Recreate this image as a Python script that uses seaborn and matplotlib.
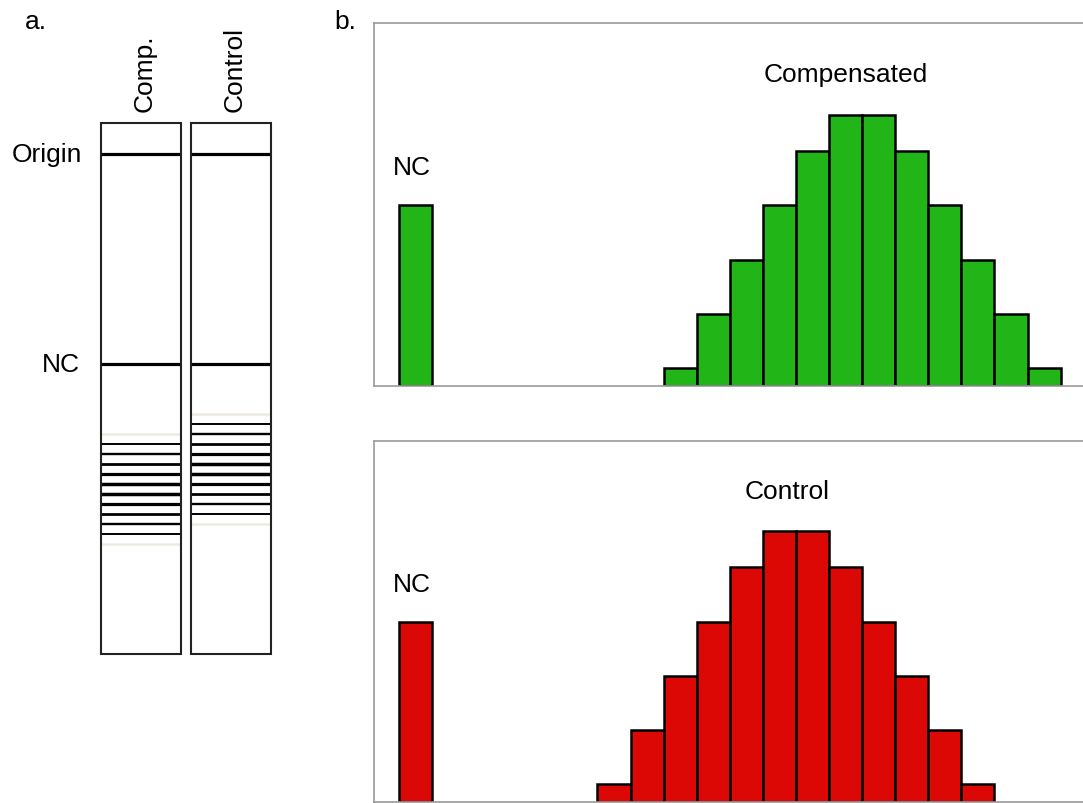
import numpy as np
import pandas as pd
import matplotlib
matplotlib.use("Agg")
import matplotlib.pyplot as plt
from matplotlib.patches import Rectangle
import seaborn as sns

sns.set_style("white")
plt.rcParams['font.family'] = ['Liberation Sans', 'DejaVu Sans']
plt.rcParams['text.color'] = 'black'

# ---- data ----
counts = [1, 4, 7, 10, 13, 15, 15, 13, 10, 7, 4, 1]
comp_positions = list(range(8, 20))
control_positions = list(range(6, 18))
nc_position = 0
nc_count = 10
lane_names = ["Comp.", "Control"]
panel_titles = ["Compensated", "Control"]

# gel geometry (data units = migration distance)
gel_origin = 31
gel_nc = 241
gel_ladder_offset = 230.7
gel_spacing = 10.0
gel_length = 531

W, H = 1083, 804
fig = plt.figure(figsize=(W / 100, H / 100), dpi=100)
FS = 19

def px_axes(x0, y0, x1, y1):
    return fig.add_axes([x0 / W, 1 - y1 / H, (x1 - x0) / W, (y1 - y0) / H])

# ---- panel a: gel ----
axg = px_axes(101, 124, 271, 655)
lane_w = 80.0
lane_gap = 10.0
axg.set_xlim(0, 2 * lane_w + lane_gap)
axg.set_ylim(gel_length, 0)
axg.axis("off")
lane_pos = {"Comp.": comp_positions, "Control": control_positions}
for i, name in enumerate(lane_names):
    x0 = i * (lane_w + lane_gap)
    axg.add_patch(Rectangle((x0, 0), lane_w, gel_length, fill=False,
                            edgecolor="#222222", linewidth=1.5, clip_on=False, zorder=3))
    axg.hlines([gel_origin, gel_nc], x0, x0 + lane_w, color="black", linewidth=2.3, zorder=2)
    for p, c in zip(lane_pos[name], counts):
        y = gel_ladder_offset + gel_spacing * p
        if c <= 1:
            col, lw = "#eeebe1", 1.8
        else:
            col, lw = "black", 1.0 + 0.1 * c
        axg.hlines(y, x0, x0 + lane_w, color=col, linewidth=lw, zorder=2)
    axg.text(x0 + lane_w / 2 + 4, -12, name, rotation=90, ha="center", va="bottom",
             fontsize=FS, clip_on=False)
axg.text(-19, gel_origin, "Origin", ha="right", va="center", fontsize=FS, clip_on=False)
axg.text(-21, gel_nc, "NC", ha="right", va="center", fontsize=FS, clip_on=False)

fig.text(36 / W, 1 - 22 / H, "a.", ha="center", va="center", fontsize=FS)
fig.text(345 / W, 1 - 22 / H, "b.", ha="center", va="center", fontsize=FS)

# ---- panel b: histograms ----
specs = [
    (panel_titles[0], comp_positions, "#21b517", (374, 24, 1083, 387), 20.1, 846),
    (panel_titles[1], control_positions, "#dc0805", (374, 442, 1083, 803), 20.0, 787),
]
for title, positions, color, box, ytop, title_px in specs:
    ax = px_axes(*box)
    df = pd.DataFrame({"pos": [nc_position] + positions, "count": [nc_count] + counts})
    sns.barplot(data=df, x="pos", y="count", native_scale=True, width=1.0,
                color=color, saturation=1, edgecolor="black", linewidth=1.8, ax=ax)
    unit = 33.08
    xl = nc_position - 0.5 - 25 / unit
    ax.set_xlim(xl, xl + (box[2] - box[0]) / unit)
    ax.set_ylim(0, ytop)
    ax.set_xticks([])
    ax.set_yticks([])
    ax.set_xlabel("")
    ax.set_ylabel("")
    for s in ["top", "left", "bottom"]:
        ax.spines[s].set_visible(True)
        ax.spines[s].set_color("#999999")
        ax.spines[s].set_linewidth(1.2)
    ax.spines["right"].set_visible(False)
    ax.text(nc_position - 0.1, nc_count + 2.1, "NC", ha="center", va="center", fontsize=FS)
    tx = xl + (title_px - box[0]) / unit
    ax.text(tx, 17.25, title, ha="center", va="center", fontsize=FS)

fig.savefig("out.png", dpi=100)
